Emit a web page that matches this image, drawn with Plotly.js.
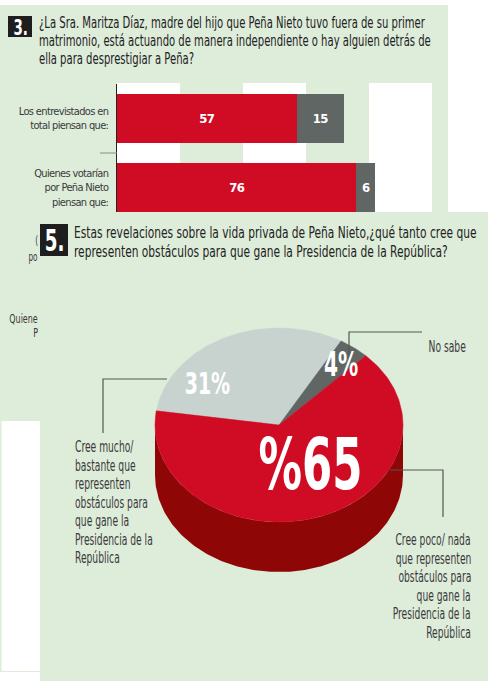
<!DOCTYPE html>
<html>
<head>
<meta charset="utf-8">
<script src="https://cdn.plot.ly/plotly-3.0.1.min.js"></script>
<style>
  html, body { margin: 0; padding: 0; background: #fff; }
  #chart { width: 488px; height: 681px; }
  /* tipografía condensada como en el impreso */
  #chart .annotation-text { transform-box: fill-box; transform: scaleX(0.68); }
  #chart .annotation-text[text-anchor="start"] { transform-origin: 0% 50%; }
  #chart .annotation-text[text-anchor="end"] { transform-origin: 100% 50%; }
  #chart .annotation-text[text-anchor="middle"] { transform-origin: 50% 50%; }
  #chart g.annotation[data-index="0"] .annotation-text,
  #chart g.annotation[data-index="1"] .annotation-text,
  #chart g.annotation[data-index="2"] .annotation-text { transform: scaleX(0.745); }
  #chart g.annotation[data-index="3"] .annotation-text,
  #chart g.annotation[data-index="4"] .annotation-text { transform: scaleX(0.765); }
  #chart g.ytick text { letter-spacing: -0.65px; }
  #chart text.bartext { letter-spacing: -0.6px; }
</style>
</head>
<body>
<div id="chart"></div>
<script>
// pregunta 3: barras apiladas
var q3Title = ['¿La Sra. Maritza Díaz, madre del hijo que Peña Nieto tuvo fuera de su primer',
  'matrimonio, está actuando de manera independiente o hay alguien detrás de',
  'ella para desprestigiar a Peña?'];
var q3Groups = ['Los entrevistados en<br>total piensan que:', 'Quienes votarían<br>por Peña Nieto<br>piensan que:'];
var q3Red = [57, 76];
var q3Gray = [15, 6];

// pregunta 5: pastel
var q5Title = ['Estas revelaciones sobre la vida privada de Peña Nieto,¿qué tanto cree que',
  'representen obstáculos para que gane la Presidencia de la República?'];
var q5Labels = ['Cree mucho/ bastante', 'No sabe', 'Cree poco/ nada'];
var q5Values = [31, 4, 65];
var q5Text = ['31%', '4%', '%65'];
var q5Colors = ['#c8d3cf', '#5f6664', '#d00b24'];
var q5SideColors = ['#8a9591', '#3f4443', '#8e0606'];
var calloutMucho = ['Cree mucho/', 'bastante que', 'representen', 'obstáculos para', 'que gane la', 'Presidencia de la', 'República'];
var calloutPoco = ['Cree poco/ nada', 'que representen', 'obstáculos para', 'que gane la', 'Presidencia de la', 'República'];

var W = 488, H = 681;
var FONT = 'DejaVu Sans Condensed, DejaVu Sans, sans-serif';
var RED = '#d00b24', GRAY = '#5f6664', GREEN = '#deecda', INK = '#3a3a3a';

function px(x) { return x / W; }
function py(y) { return 1 - y / H; }

var traces = [];

traces.push({
  type: 'bar', orientation: 'h',
  y: q3Groups, x: q3Red,
  marker: { color: RED },
  text: q3Red, textposition: 'inside', insidetextanchor: 'middle',
  textfont: { color: '#fff', size: 13, family: FONT, weight: 'bold' },
  hoverinfo: 'skip', xaxis: 'x', yaxis: 'y'
});
traces.push({
  type: 'bar', orientation: 'h',
  y: q3Groups, x: q3Gray,
  marker: { color: GRAY },
  text: q3Gray, textposition: 'inside', insidetextanchor: 'middle',
  textfont: { color: '#fff', size: 13, family: FONT, weight: 'bold' },
  hoverinfo: 'skip', xaxis: 'x', yaxis: 'y'
});

// pastel 3D: elipse con cara lateral
var cx = 279, cy = 425, rx = 124, ry = 97, depth = 50, start = 171.6;
var total = q5Values.reduce(function (s, v) { return s + v; }, 0);

function arc(t0, t1, dy) {
  var xs = [], ys = [];
  var n = Math.max(2, Math.ceil(Math.abs(t1 - t0)));
  for (var k = 0; k <= n; k++) {
    var t = (t0 + (t1 - t0) * k / n) * Math.PI / 180;
    xs.push(cx + rx * Math.cos(t));
    ys.push(cy - ry * Math.sin(t) + dy);
  }
  return { x: xs, y: ys };
}

var slices = [];
var angle = start;
for (var i = 0; i < q5Values.length; i++) {
  var next = angle - q5Values[i] / total * 360;
  slices.push([angle, next]);
  angle = next;
}

// caras laterales (solo la mitad frontal)
for (var i = 0; i < slices.length; i++) {
  var hi = slices[i][0], lo = slices[i][1];
  for (var k = -2; k <= 1; k++) {
    var s0 = Math.max(lo, 180 + 360 * k), s1 = Math.min(hi, 360 + 360 * k);
    if (s1 <= s0) continue;
    var upper = arc(s0, s1, 0), lower = arc(s1, s0, depth);
    traces.push({
      type: 'scatter', mode: 'lines', fill: 'toself',
      x: upper.x.concat(lower.x), y: upper.y.concat(lower.y),
      fillcolor: q5SideColors[i], line: { width: 0, color: q5SideColors[i] },
      hoverinfo: 'skip', xaxis: 'x2', yaxis: 'y2'
    });
  }
}
// caras superiores
for (var i = 0; i < slices.length; i++) {
  var p = arc(slices[i][0], slices[i][1], 0);
  traces.push({
    type: 'scatter', mode: 'lines', fill: 'toself',
    x: [cx].concat(p.x, [cx]), y: [cy].concat(p.y, [cy]),
    fillcolor: q5Colors[i], line: { width: 0.5, color: q5Colors[i] },
    name: q5Labels[i], hoverinfo: 'name', xaxis: 'x2', yaxis: 'y2'
  });
}

var shapes = [
  { type: 'rect', xref: 'paper', yref: 'paper', x0: 0, x1: px(448), y0: py(672), y1: py(5),
    fillcolor: GREEN, line: { width: 0 }, layer: 'below' },
  { type: 'rect', xref: 'paper', yref: 'paper', x0: px(1.5), x1: px(40), y0: py(671), y1: py(421),
    fillcolor: '#fff', line: { width: 0 }, layer: 'below' }
];
for (var v = 0; v < 100; v += 40) {
  shapes.push({ type: 'rect', xref: 'x', yref: 'paper', x0: v, x1: v + 20, y0: py(212), y1: py(83),
    fillcolor: '#fff', line: { width: 0 }, layer: 'below' });
}
shapes.push(
  { type: 'rect', xref: 'paper', yref: 'paper', x0: px(40), x1: 1, y0: 0, y1: py(212),
    fillcolor: GREEN, line: { width: 0 }, layer: 'below' },
  { type: 'line', xref: 'paper', yref: 'y', x0: px(100), x1: px(117), y0: 0.5, y1: 0.5,
    line: { color: '#8a8a8a', width: 1 } },
  { type: 'rect', xref: 'x2', yref: 'y2', x0: 8, x1: 32, y0: 16, y1: 37,
    fillcolor: '#1e1e1e', line: { width: 0 } },
  { type: 'rect', xref: 'x2', yref: 'y2', x0: 40, x1: 68, y0: 224, y1: 256,
    fillcolor: '#1e1e1e', line: { width: 0 } },
  { type: 'path', xref: 'x2', yref: 'y2', path: 'M349,360 L349,332 L422,332', line: { color: '#555', width: 1.2 } },
  { type: 'path', xref: 'x2', yref: 'y2', path: 'M167,379 L103,379 L103,433', line: { color: '#555', width: 1.2 } },
  { type: 'path', xref: 'x2', yref: 'y2', path: 'M390,470 L443,470 L443,517', line: { color: '#555', width: 1.2 } }
);

function note(text, x, y, opts) {
  var o = {
    text: text, x: x, y: y, xref: 'x2', yref: 'y2', showarrow: false,
    font: { family: FONT, size: 15, color: INK }, xanchor: 'left', yanchor: 'middle', align: 'left'
  };
  for (var key in opts) o[key] = opts[key];
  return o;
}
function block(lines, x, y0, gap, opts) {
  return lines.map(function (line, j) { return note(line, x, y0 + j * gap, opts); });
}

var titleFont = { family: FONT, size: 15, color: '#222' };
var bigFont = function (s) { return { family: FONT, size: s, color: '#fff', weight: 'bold' }; };
var cutFont = { family: FONT, size: 12, color: INK };

var annotations = [].concat(
  block(q3Title, 37, 23, 18, { font: titleFont }),
  block(q5Title, 72, 233, 19, { font: { family: FONT, size: 15.5, color: '#222' } }),
  [
    note('3.', 20, 27, { xanchor: 'center', align: 'center', font: bigFont(22) }),
    note('5.', 54, 240, { xanchor: 'center', align: 'center', font: bigFont(30) }),
    note('(', 40, 241, { xanchor: 'right', align: 'right', font: cutFont }),
    note('po', 40, 257, { xanchor: 'right', align: 'right', font: cutFont }),
    note('Quiene', 40, 318, { xanchor: 'right', align: 'right', font: { family: FONT, size: 13, color: INK } }),
    note('P', 40, 332, { xanchor: 'right', align: 'right', font: { family: FONT, size: 13, color: INK } }),
    note(q5Text[0], 207, 383, { xanchor: 'center', align: 'center', font: bigFont(31) }),
    note(q5Text[1], 341, 364, { xanchor: 'center', align: 'center', font: bigFont(33) }),
    note(q5Text[2], 310, 464, { xanchor: 'center', align: 'center', font: bigFont(71) }),
    note('No sabe', 468, 347, { xanchor: 'right', align: 'right' })
  ],
  block(calloutMucho, 73, 447, 18.5, {}),
  block(calloutPoco, 473, 540, 18.6, { xanchor: 'right', align: 'right' })
);

var layout = {
  width: W, height: H,
  margin: { l: 0, r: 0, t: 0, b: 0 },
  paper_bgcolor: '#fff',
  plot_bgcolor: 'rgba(0,0,0,0)',
  showlegend: false,
  barmode: 'stack',
  bargap: 0.29,
  xaxis: {
    domain: [px(117), px(432)], range: [0, 100],
    showgrid: false, zeroline: false, showticklabels: false, ticks: '', fixedrange: true
  },
  yaxis: {
    domain: [py(212), py(84)], range: [1.355, -0.5], type: 'category',
    showgrid: false, zeroline: false, showline: true, linecolor: '#222', linewidth: 1.5,
    ticks: '', ticklabelstandoff: 5,
    tickfont: { family: FONT, size: 11, color: INK }, fixedrange: true
  },
  xaxis2: { domain: [0, 1], range: [0, W], visible: false, anchor: 'y2', fixedrange: true },
  yaxis2: { domain: [0, 1], range: [H, 0], visible: false, anchor: 'x2', fixedrange: true },
  shapes: shapes,
  annotations: annotations
};

Plotly.newPlot('chart', traces, layout, { displayModeBar: false, staticPlot: true });
</script>
</body>
</html>
